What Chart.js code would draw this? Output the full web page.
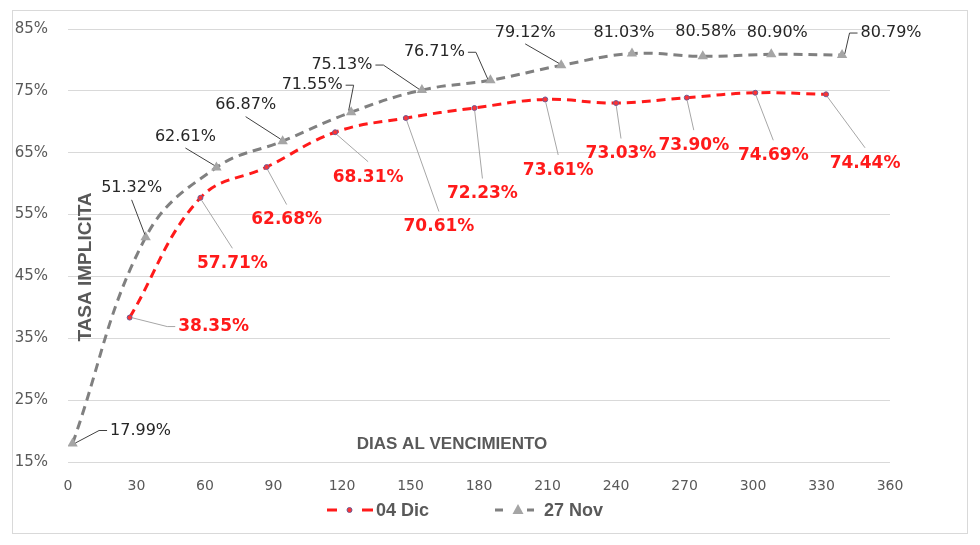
<!DOCTYPE html>
<html><head><meta charset="utf-8">
<script src="https://cdn.jsdelivr.net/npm/chart.js@4.4.0/dist/chart.umd.min.js"></script>
<style>html,body{margin:0;padding:0;background:#fff;} #wrap{width:980px;height:545px;position:relative;}</style>
</head><body><div id="wrap"><canvas id="c" width="980" height="545"></canvas></div>
<script>
// ---- data ----
const seriesNames = ['04 Dic', '27 Nov'];
const diasDic = [27, 58, 87, 117, 148, 178, 209, 240, 271, 301, 332];
const tasaDic = [38.35, 57.71, 62.68, 68.31, 70.61, 72.23, 73.61, 73.03, 73.90, 74.69, 74.44];
const diasNov = [2, 34, 65, 94, 124, 155, 185, 216, 247, 278, 308, 339];
const tasaNov = [17.99, 51.32, 62.61, 66.87, 71.55, 75.13, 76.71, 79.12, 81.03, 80.58, 80.90, 80.79];
const xTicks = [0, 30, 60, 90, 120, 150, 180, 210, 240, 270, 300, 330, 360];
const yTicks = [15, 25, 35, 45, 55, 65, 75, 85];
const xTitle = 'DIAS AL VENCIMIENTO';
const yTitle = 'TASA IMPLICITA';

// label placement (pixel offsets of label centre from its point)
const labelOffsets = [
  [[84,9],[32,66],[20,53],[33,45],[33,109],[8,86],[13,71],[5,51],[7,48],[18,63],[39,69]],
  [[68,-13],[-14,-49],[-31,-31],[-37,-36],[-39,-27],[-80,-25],[-56,-28],[-36,-33],[-8,-21],[3,-24],[6,-22],[49,-22]]
];
const labelStyles = [
  {font:'bold 17px "DejaVu Sans"', color:'#ff1a1a', leader:'#a6a6a6', h:17},
  {font:'16px "DejaVu Sans"', color:'#262626', leader:'#404040', h:15}
];

function drawLeader(ctx, px, py, cx, cy, w, h, color){
  const dx = cx - px, dy = cy - py;
  const dist = Math.hypot(dx, dy);
  if (dist < 30) return;
  ctx.save();
  ctx.strokeStyle = color; ctx.lineWidth = 1; ctx.beginPath();
  const sx = px + dx/dist*3, sy = py + dy/dist*3;
  if (Math.abs(dx) > 1.2*Math.abs(dy)) {
    const ex = dx > 0 ? cx - w/2 - 3 : cx + w/2 + 3;
    const stub = dx > 0 ? ex - 8 : ex + 8;
    ctx.moveTo(sx, sy); ctx.lineTo(stub, cy); ctx.lineTo(ex, cy);
  } else {
    const ey = dy > 0 ? cy - h/2 - 7 : cy + h/2 + 4;
    ctx.moveTo(sx, sy); ctx.lineTo(cx, ey);
  }
  ctx.stroke();
  ctx.restore();
}

const decor = {
  id: 'decor',
  beforeDraw(chart){
    const ctx = chart.ctx;
    ctx.save();
    ctx.strokeStyle = '#d9d9d9'; ctx.lineWidth = 1;
    ctx.strokeRect(12.5, 10.5, 955, 523);
    ctx.restore();
  },
  afterDatasetsDraw(chart){
    const ctx = chart.ctx;
    const area = chart.chartArea;
    // axis titles inside plot
    ctx.save();
    ctx.fillStyle = '#595959';
    ctx.font = 'bold 17px "Liberation Sans"';
    ctx.textAlign = 'center'; ctx.textBaseline = 'middle';
    ctx.fillText(xTitle, 452, 444);
    ctx.translate(86, 267); ctx.rotate(-Math.PI/2);
    ctx.font = 'bold 19px "Liberation Sans"';
    ctx.fillText(yTitle, 0, 0);
    ctx.restore();
    // data labels
    chart.data.datasets.forEach((ds, di) => {
      const meta = chart.getDatasetMeta(di);
      const st = labelStyles[di];
      ctx.save();
      ctx.font = st.font;
      meta.data.forEach((pt, i) => {
        const off = labelOffsets[di][i];
        const cx = pt.x + off[0], cy = pt.y + off[1];
        const txt = ds.data[i].y.toFixed(2) + '%';
        const w = ctx.measureText(txt).width;
        drawLeader(ctx, pt.x, pt.y, cx, cy, w, st.h, st.leader);
        ctx.fillStyle = st.color;
        ctx.textAlign = 'center'; ctx.textBaseline = 'middle';
        ctx.fillText(txt, cx, cy);
      });
      ctx.restore();
    });
  },
  afterDraw(chart){
    const ctx = chart.ctx;
    ctx.save();
    const y = 510;
    // legend item 1
    ctx.lineWidth = 3;
    ctx.strokeStyle = '#ff1a1a';
    ctx.beginPath(); ctx.moveTo(327, y); ctx.lineTo(337, y); ctx.moveTo(362, y); ctx.lineTo(373, y); ctx.stroke();
    ctx.fillStyle = '#ff3333'; ctx.strokeStyle = '#6b5b95'; ctx.lineWidth = 1;
    ctx.beginPath(); ctx.arc(349.5, y, 2.5, 0, Math.PI*2); ctx.fill(); ctx.stroke();
    ctx.fillStyle = '#595959';
    ctx.font = 'bold 18px "Liberation Sans"';
    ctx.textAlign = 'left'; ctx.textBaseline = 'middle';
    ctx.fillText(seriesNames[0], 376, y + 1);
    // legend item 2
    ctx.lineWidth = 3; ctx.strokeStyle = '#808080';
    ctx.beginPath(); ctx.moveTo(495, y); ctx.lineTo(503, y); ctx.moveTo(527, y); ctx.lineTo(534, y); ctx.stroke();
    ctx.fillStyle = '#a5a5a5';
    ctx.beginPath(); ctx.moveTo(518, y - 6); ctx.lineTo(523.5, y + 4); ctx.lineTo(512.5, y + 4); ctx.closePath(); ctx.fill();
    ctx.fillStyle = '#595959';
    ctx.fillText(seriesNames[1], 544, y + 1);
    ctx.restore();
  }
};

const ctx = document.getElementById('c').getContext('2d');
new Chart(ctx, {
  type: 'line',
  data: {
    datasets: [
      {
        label: seriesNames[0],
        data: diasDic.map((d, i) => ({x: d, y: tasaDic[i]})),
        borderColor: '#ff1a1a', borderWidth: 3, borderDash: [9, 6],
        tension: 0.4, fill: false,
        pointStyle: 'circle', pointRadius: 2.5,
        pointBackgroundColor: '#ff3333', pointBorderColor: '#6b5b95', pointBorderWidth: 1
      },
      {
        label: seriesNames[1],
        data: diasNov.map((d, i) => ({x: d, y: tasaNov[i]})),
        borderColor: '#808080', borderWidth: 3, borderDash: [9, 6],
        tension: 0.4, fill: false,
        pointStyle: 'triangle', pointRadius: 6,
        pointBackgroundColor: '#a5a5a5', pointBorderColor: '#a5a5a5', pointBorderWidth: 0
      }
    ]
  },
  options: {
    responsive: false,
    animation: false,
    layout: {padding: {top: 24, right: 90, bottom: 0, left: 0}},
    plugins: {legend: {display: false}, tooltip: {enabled: false}},
    scales: {
      x: {
        type: 'linear', min: 0, max: 360,
        afterBuildTicks: s => { s.ticks = xTicks.map(v => ({value: v})); },
        afterFit: s => { s.height = 83; },
        grid: {display: false, drawTicks: false},
        border: {display: false},
        ticks: {color: '#595959', font: {family: 'DejaVu Sans', size: 14}, padding: 16, maxRotation: 0}
      },
      y: {
        min: 15, max: 85,
        afterBuildTicks: s => { s.ticks = yTicks.map(v => ({value: v})); },
        afterFit: s => { s.width = 68; },
        grid: {color: '#d9d9d9', lineWidth: 1, drawTicks: false},
        border: {display: false},
        ticks: {color: '#595959', font: {family: 'DejaVu Sans', size: 15}, padding: 20, callback: v => v + '%'}
      }
    }
  },
  plugins: [decor]
});
</script></body></html>
